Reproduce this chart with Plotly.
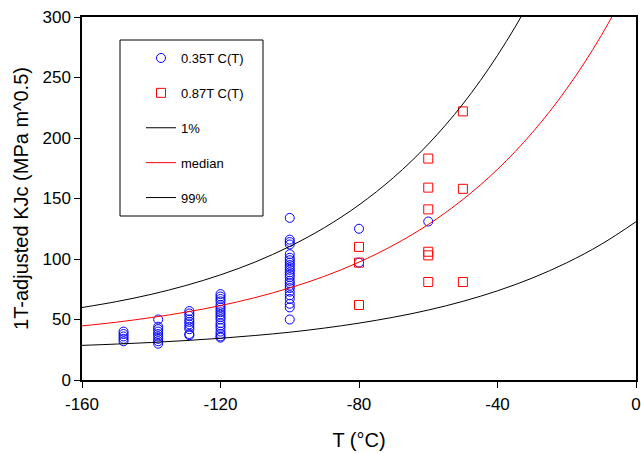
import plotly.graph_objects as go

# ---- data ----
circ_T = ([-148] * 5 + [-138] * 9 + [-129] * 10 + [-120] * 18 + [-100] * 24
          + [-80] * 2 + [-60])
circ_K = ([32, 34, 36, 38, 40]
          + [30, 32, 34, 36, 38, 40, 42, 44, 50]
          + [37, 38, 42, 44, 46, 48, 50, 53, 55, 57]
          + [35, 36, 38, 40, 43, 45, 47, 50, 52, 54, 56, 58, 60, 62, 65, 67, 69, 71]
          + [50, 60, 63, 67, 70, 73, 76, 78, 80, 82, 85, 87, 89, 91, 93, 95, 97, 99,
             101, 104, 112, 114, 116, 134]
          + [97, 125]
          + [131])

sq_T = [-80] * 3 + [-60] * 6 + [-50] * 3
sq_K = [62, 97, 110, 81, 103, 106, 141, 159, 183, 81, 158, 222]

curve_T = [-160, -150, -140, -130, -120, -110, -100, -90, -80, -70, -60, -50,
           -40, -30, -20, -10, 0]
k_01 = [28.6, 29.7, 31.0, 32.6, 34.5, 36.8, 39.5, 42.9, 47.0, 51.9, 57.8, 65.0,
        73.7, 84.2, 96.9, 112.2, 130.8]
k_50 = [44.7, 47.8, 51.6, 56.1, 61.5, 68.1, 76.1, 85.7, 97.4, 111.5, 128.5, 149.2,
        174.1, 204.3, 240.7, 284.8, 338.1]
k_99 = [59.9, 64.8, 70.8, 78.1, 86.9, 97.5, 110.4, 125.9, 144.7, 167.4, 194.9,
        228.1, 268.3, 316.9, 380.0, 455.0, 545.0]

x_ticks = [-160, -120, -80, -40, 0]
y_ticks = [0, 50, 100, 150, 200, 250, 300]

FONT = "Liberation Sans, Arial, sans-serif"

fig = go.Figure()
fig.add_trace(go.Scatter(x=circ_T, y=circ_K, mode="markers", name="0.35T C(T)",
                         legendgroup="a",
                         marker=dict(symbol="circle-open", size=9, color="#0000ff",
                                     line=dict(width=1, color="#0000ff"))))
fig.add_trace(go.Scatter(x=sq_T, y=sq_K, mode="markers", name="0.87T C(T)",
                         legendgroup="b",
                         marker=dict(symbol="square-open", size=9, color="#ff0000",
                                     line=dict(width=1, color="#ff0000"))))
fig.add_trace(go.Scatter(x=curve_T, y=k_01, mode="lines", name="1%", legendgroup="c",
                         line=dict(color="black", width=1, shape="spline")))
fig.add_trace(go.Scatter(x=curve_T, y=k_50, mode="lines", name="median", legendgroup="d",
                         line=dict(color="#ff0000", width=1, shape="spline")))
fig.add_trace(go.Scatter(x=curve_T, y=k_99, mode="lines", name="99%", legendgroup="e",
                         line=dict(color="black", width=1, shape="spline")))

axis_common = dict(showline=True, linecolor="black", linewidth=1.5, mirror=True,
                   ticks="outside", ticklen=6, tickwidth=1, tickcolor="black",
                   showgrid=False, zeroline=False, automargin=False,
                   ticklabeloverflow="allow",
                   tickfont=dict(family=FONT, size=17, color="black"))

fig.update_xaxes(range=[-160, 0], tickvals=x_ticks, ticktext=[str(v) for v in x_ticks],
                 ticklabelstandoff=2,
                 title=dict(text="T (°C)", font=dict(family=FONT, size=20, color="black"),
                            standoff=20),
                 **axis_common)
fig.update_yaxes(range=[0, 300], tickvals=y_ticks, ticktext=[str(v) for v in y_ticks],
                 title=dict(text="1T-adjusted KJc (MPa m^0.5)",
                            font=dict(family=FONT, size=20, color="black"), standoff=8),
                 **axis_common)

L, R, T, B = 82, 5, 17, 73
W, H = 641, 453
pw, ph = W - L - R, H - T - B


def px2paper(x, y):
    return (x - L) / pw, (H - B - y) / ph


x0, y0 = px2paper(120, 40)
x1, y1 = px2paper(263, 216)
fig.add_shape(type="rect", xref="paper", yref="paper", x0=x0, y0=y1, x1=x1, y1=y0,
              line=dict(color="black", width=1), fillcolor="rgba(0,0,0,0)")

lx, ly = px2paper(141, 43)
fig.update_layout(
    width=W, height=H,
    margin=dict(l=L, r=R, t=T, b=B),
    paper_bgcolor="white", plot_bgcolor="white",
    showlegend=True,
    legend=dict(x=lx, y=ly, xanchor="left", yanchor="top", bgcolor="rgba(0,0,0,0)",
                borderwidth=0, tracegroupgap=15,
                font=dict(family=FONT, size=13, color="black")),
    font=dict(family=FONT, color="black"),
)

fig.write_html("out.html",
               config={"displayModeBar": False},
               post_script="document.body.style.margin='0';"
                           "document.body.style.overflow='hidden';")
